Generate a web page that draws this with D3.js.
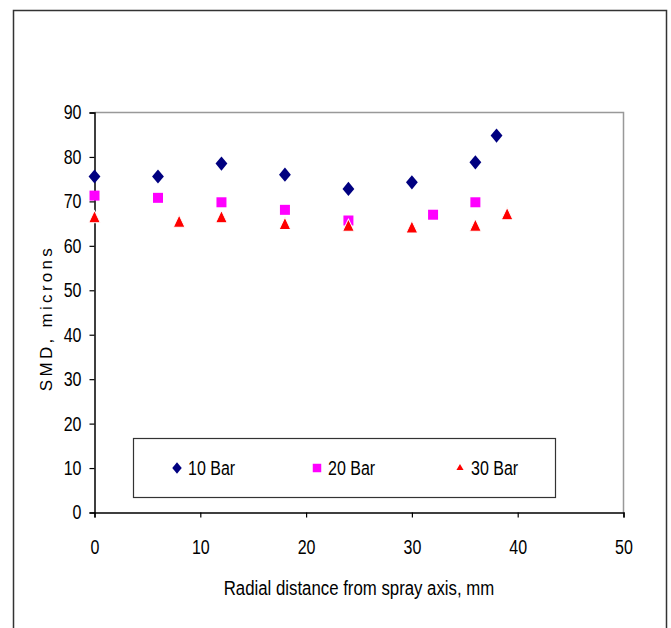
<!DOCTYPE html>
<html>
<head>
<meta charset="utf-8">
<script src="https://cdn.jsdelivr.net/npm/d3@7"></script>
<style>
  body { margin: 0; background: #fff; }
  text { font-family: "Liberation Sans", Arial, sans-serif; fill: #000; }
</style>
</head>
<body>
<svg></svg>
<script>
let width = 671, height = 628;

// data
let bar10X = [0, 6, 12, 18, 24, 30, 36, 38];
let bar10Y = [75.6, 75.6, 78.5, 76.0, 72.8, 74.3, 78.8, 84.8];
let bar20X = [0, 6, 12, 18, 24, 32, 36];
let bar20Y = [71.3, 70.8, 69.8, 68.1, 65.7, 67.0, 69.8];
let bar30X = [0, 8, 12, 18, 24, 30, 36, 39];
let bar30Y = [66.1, 65.1, 66.1, 64.6, 64.2, 63.8, 64.2, 66.8];
let seriesNames = ["10 Bar", "20 Bar", "30 Bar"];
let xTicks = [0, 10, 20, 30, 40, 50];
let yTicks = [0, 10, 20, 30, 40, 50, 60, 70, 80, 90];

// the original font is a narrow one, squeeze Liberation Sans to look like it
let squeeze = 0.8;

let svg = d3.select("svg")
    .attr("width", width)
    .attr("height", height);

// outer chart frame (runs off the bottom)
svg.append("rect")
    .attr("x", 13.5).attr("y", 10.5)
    .attr("width", 653).attr("height", 640)
    .attr("fill", "none")
    .attr("stroke", "#333")
    .attr("stroke-width", 1.5);

let x = d3.scaleLinear().domain([0, 50]).range([94.5, 623.5]);
let y = d3.scaleLinear().domain([0, 90]).range([512.5, 112.5]);

// plot area border (grey top/right)
svg.append("path")
    .attr("d", "M" + x(0) + "," + y(90) + "H" + x(50) + "V" + y(0))
    .attr("fill", "none")
    .attr("stroke", "#999")
    .attr("stroke-width", 1.5);

let xAxis = svg.append("g")
    .attr("transform", "translate(0," + y(0) + ")")
    .call(d3.axisBottom(x).tickValues(xTicks).tickSize(5).tickPadding(22));
let yAxis = svg.append("g")
    .attr("transform", "translate(" + x(0) + ",0)")
    .call(d3.axisLeft(y).tickValues(yTicks).tickSize(5).tickPadding(8));

[xAxis, yAxis].forEach(a => {
    a.select(".domain").attr("stroke", "#000").attr("stroke-width", 1.5);
    a.selectAll(".tick line").attr("stroke", "#000").attr("stroke-width", 1.2);
    a.selectAll(".tick text")
        .style("font-size", "20px")
        .style("font-family", "'Liberation Sans', Arial, sans-serif")
        .attr("transform", "scale(" + squeeze + ",1)");
});
yAxis.selectAll(".tick text").attr("x", -13 / squeeze);

function squeezedText(px, py, str, anchor, size) {
    return svg.append("g")
        .attr("transform", "translate(" + px + "," + py + ") scale(" + squeeze + ",1)")
        .append("text")
        .attr("text-anchor", anchor)
        .style("font-size", size + "px")
        .text(str);
}

// axis titles
squeezedText(359, 595, "Radial distance from spray axis, mm", "middle", 21);

svg.append("text")
    .attr("transform", "translate(52,318) rotate(-90)")
    .attr("text-anchor", "middle")
    .style("font-size", "17px")
    .style("letter-spacing", "3.3px")
    .text("SMD, microns");

// markers
let diamondType = {
    draw: function (ctx, size) {
        let w = Math.sqrt(size) * 0.5, h = w * 1.2;
        ctx.moveTo(0, -h);
        ctx.lineTo(w, 0);
        ctx.lineTo(0, h);
        ctx.lineTo(-w, 0);
        ctx.closePath();
    }
};
let diamond = d3.symbol().type(diamondType).size(140);
let square = d3.symbol().type(d3.symbolSquare).size(100);
let triangle = d3.symbol().type(d3.symbolTriangle).size(72);

let marks = svg.append("g");

marks.selectAll(".s20")
    .data(bar20X)
    .enter()
    .append("path")
    .attr("d", square)
    .attr("transform", (d, i) => "translate(" + x(d) + "," + y(bar20Y[i]) + ")")
    .attr("fill", "#ff00ff");

marks.selectAll(".s10")
    .data(bar10X)
    .enter()
    .append("path")
    .attr("d", diamond)
    .attr("transform", (d, i) => "translate(" + x(d) + "," + y(bar10Y[i]) + ")")
    .attr("fill", "#000080");

marks.selectAll(".s30")
    .data(bar30X)
    .enter()
    .append("path")
    .attr("d", triangle)
    .attr("transform", (d, i) => "translate(" + x(d) + "," + y(bar30Y[i]) + ") scale(0.9,1.1)")
    .attr("fill", "#ff0000")
    .attr("stroke", "#fff")
    .attr("stroke-width", 1);

// legend
let legend = svg.append("g");
legend.append("rect")
    .attr("x", 133.5).attr("y", 438.5)
    .attr("width", 422).attr("height", 59)
    .attr("fill", "#fff")
    .attr("stroke", "#333")
    .attr("stroke-width", 1.2);

let legendX = [177, 317, 460];
let legendShapes = [
    d3.symbol().type(diamondType).size(90),
    d3.symbol().type(d3.symbolSquare).size(72),
    d3.symbol().type(d3.symbolTriangle).size(22)
];
let legendColors = ["#000080", "#ff00ff", "#ff0000"];

seriesNames.forEach((name, i) => {
    legend.append("path")
        .attr("d", legendShapes[i])
        .attr("transform", "translate(" + legendX[i] + ",468)")
        .attr("fill", legendColors[i]);
    squeezedText(legendX[i] + 11, 475, name, "start", 20);
});
</script>
</body>
</html>
